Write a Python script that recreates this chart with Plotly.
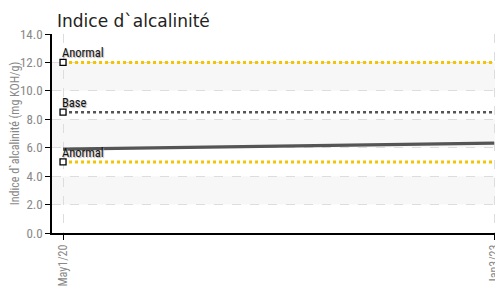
import plotly.graph_objects as go

dates = ["2020-05-01", "2023-01-03"]
values = [5.9, 6.32]
tick_labels = ["May1/20", "Jan3/23"]

limit_names = ["Anormal", "Base", "Anormal"]
limit_values = [12.0, 8.5, 5.0]
limit_colors = ["#F5C400", "#555555", "#F5C400"]

bands = [(10, 12), (6, 8), (2, 4)]

FONT = "Liberation Sans Narrow, Roboto Condensed, Roboto, Arial"

fig = go.Figure()

for lo, hi in bands:
    fig.add_shape(type="rect", xref="paper", x0=0, x1=1, yref="y", y0=lo, y1=hi,
                  fillcolor="#F7F7F7", line_width=0, layer="below")

for name, val, col in zip(limit_names, limit_values, limit_colors):
    fig.add_trace(go.Scatter(x=dates, y=[val, val], mode="lines",
                             line=dict(color=col, width=3 if col != "#555555" else 2.5, dash="dot"),
                             hoverinfo="skip"))
    fig.add_trace(go.Scatter(x=[dates[0]], y=[val], mode="markers",
                             marker=dict(symbol="square", size=6, color="white",
                                         line=dict(color="black", width=1.3)),
                             hoverinfo="skip"))
    fig.add_annotation(x=dates[0], y=val, text=name, showarrow=False,
                       xanchor="left", yanchor="bottom", xshift=-3, yshift=0,
                       font=dict(family=FONT, size=12.5, color="#111",
                                 shadow="1px 1px 1px #aaa"))

fig.add_trace(go.Scatter(x=dates, y=values, mode="lines",
                         line=dict(color="#555555", width=3.2)))

fig.update_layout(
    width=495, height=283,
    margin=dict(l=44, r=0, t=26, b=58),
    paper_bgcolor="white", plot_bgcolor="white",
    showlegend=False,
    title=dict(text="Indice d`alcalinité", x=0, xref="paper", xanchor="left",
               y=0.975, yref="container", yanchor="top",
               font=dict(family="DejaVu Sans", size=17, color="#222"), pad=dict(l=5)),
    xaxis=dict(type="date", range=["2020-04-06", "2023-01-23"],
               tickvals=dates, ticktext=tick_labels, tickangle=-90,
               ticks="outside", ticklen=5, tickcolor="black",
               showline=True, linecolor="black", linewidth=1.5,
               showgrid=True, gridcolor="#DDDDDD", griddash="dash", gridwidth=1,
               zeroline=False,
               tickfont=dict(family=FONT, size=12, color="#888")),
    yaxis=dict(range=[0, 14], tickvals=[0, 2, 4, 6, 8, 10, 12, 14],
               tickformat=".1f", ticks="outside", ticklen=5, tickcolor="black",
               showline=True, linecolor="black", linewidth=1.5,
               showgrid=True, gridcolor="#DDDDDD", griddash="dash", gridwidth=1,
               zeroline=False,
               title=dict(text="Indice d`alcalinité (mg KOH/g)", standoff=0,
                          font=dict(family=FONT, size=12, color="#888")),
               tickfont=dict(family=FONT, size=13, color="#888")),
)

fig.write_html("out.html")
